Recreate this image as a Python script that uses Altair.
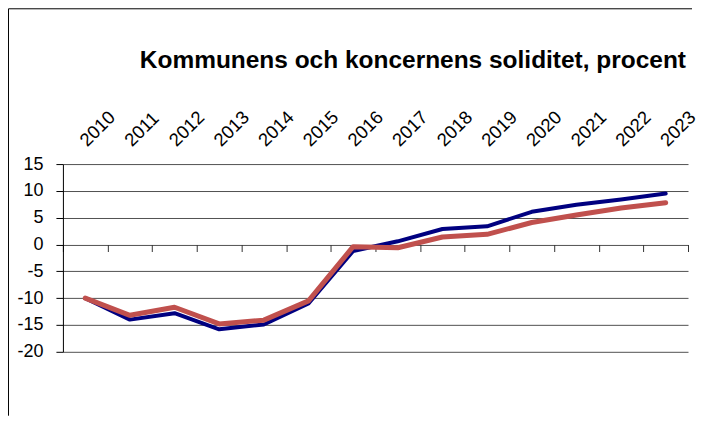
import altair as alt
import pandas as pd

years = [str(y) for y in range(2010, 2024)]
kommunen = [-10, -14, -12.8, -15.8, -14.9, -11, -1.2, 0.6, 2.9, 3.4, 6.1, 7.4, 8.4, 9.5]
koncernen = [-10, -13.2, -11.7, -14.8, -14.1, -10.5, -0.4, -0.6, 1.4, 1.9, 4.1, 5.5, 6.8, 7.8]
title_text = "Kommunens och koncernens soliditet, procent"
y_ticks = [-20, -15, -10, -5, 0, 5, 10, 15]

W, H = 626, 188
FONT = "Liberation Sans"

df = pd.DataFrame({
    "year": years * 2,
    "value": kommunen + koncernen,
    "serie": ["Kommunen"] * len(years) + ["Koncernen"] * len(years),
})

xscale = alt.Scale(type="band", paddingInner=0, paddingOuter=0)
yscale = alt.Scale(domain=[-20, 15], nice=False, zero=False)
yaxis = alt.Axis(values=y_ticks, grid=True, gridColor="#505050", gridWidth=1,
                 domainColor="#000000", tickColor="#000000", tickSize=7,
                 labelFontSize=18, labelPadding=13, labelColor="#000000",
                 labelFont=FONT, labelExpr="'' + datum.value", title=None)

top_axis = alt.Axis(orient="top", labelAngle=-45, labelAlign="left",
                    labelBaseline="alphabetic", labelPadding=17, labelOffset=2,
                    ticks=False, tickSize=0, domain=False, grid=False, title=None,
                    labelFontSize=18.5, labelColor="#000000", labelFont=FONT)
zero_axis = alt.Axis(orient="bottom", offset=-H * 20 / 35, labels=False,
                     domain=False, grid=False, ticks=True, tickBand="extent",
                     tickSize=7, tickColor="#333333", title=None)

base = alt.Chart(df)

navy = base.transform_filter(alt.datum.serie == "Kommunen").mark_line(
    color="#000080", strokeWidth=4, strokeJoin="round", strokeCap="round"
).encode(
    x=alt.X("year:O", scale=xscale, axis=top_axis, bandPosition=0.5),
    y=alt.Y("value:Q", scale=yscale, axis=yaxis),
)

red = base.transform_filter(alt.datum.serie == "Koncernen").mark_line(
    color="#C0504D", strokeWidth=5, strokeJoin="round", strokeCap="round"
).encode(
    x=alt.X("year:O", scale=xscale, axis=zero_axis, bandPosition=0.5),
    y=alt.Y("value:Q", scale=yscale, axis=yaxis),
)

one = pd.DataFrame({"t": [title_text]})

title = alt.Chart(one).mark_text(
    align="right", baseline="alphabetic", fontSize=24.5, fontWeight="bold",
    font=FONT, color="#000000"
).encode(text="t:N", x=alt.value(W - 2), y=alt.value(-96))

border_top = alt.Chart(one).mark_rule(color="#000000", strokeWidth=1).encode(
    x=alt.value(-54.5), x2=alt.value(630), y=alt.value(-155.5)
)
border_left = alt.Chart(one).mark_rule(color="#000000", strokeWidth=1).encode(
    x=alt.value(-54.5), y=alt.value(-155.5), y2=alt.value(252)
)

chart = alt.layer(navy, red, title, border_top, border_left).resolve_axis(
    x="independent"
).properties(width=W, height=H, padding=0).configure_view(stroke=None)

chart.save("out.html", embed_options={"renderer": "svg", "actions": False})
